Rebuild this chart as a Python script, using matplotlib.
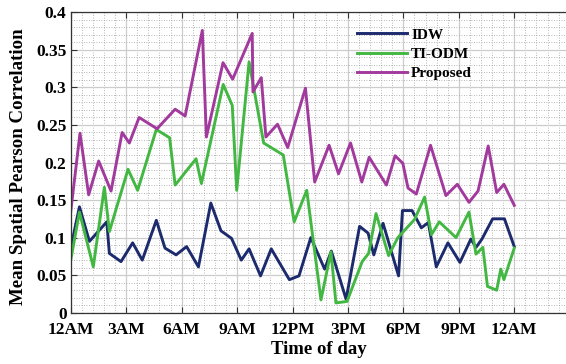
import matplotlib
matplotlib.use("Agg")
import matplotlib.pyplot as plt
from matplotlib.ticker import MultipleLocator

# hours since midnight
idw_t = [0.0, 0.47, 1.01, 1.95, 2.09, 2.72, 3.35, 3.87, 4.63, 5.1, 5.7, 6.27,
         6.91, 7.58, 8.13, 8.7, 9.23, 9.65, 10.27, 10.85, 11.83, 12.35, 12.99,
         13.74, 14.1, 14.9, 15.63, 16.09, 16.4, 16.9, 17.74, 17.95, 18.47,
         18.97, 19.35, 19.78, 20.41, 21.06, 21.65, 21.93, 22.25, 22.83, 23.47, 24.0]
idw_v = [0.086, 0.141, 0.095, 0.121, 0.079, 0.068, 0.093, 0.070, 0.123, 0.086,
         0.077, 0.088, 0.061, 0.146, 0.109, 0.099, 0.070, 0.085, 0.049, 0.085,
         0.044, 0.049, 0.100, 0.058, 0.082, 0.018, 0.115, 0.106, 0.077, 0.119,
         0.049, 0.136, 0.136, 0.113, 0.120, 0.061, 0.093, 0.067, 0.098, 0.087,
         0.098, 0.125, 0.125, 0.088]

odm_t = [0.0, 0.47, 1.22, 1.82, 2.09, 3.1, 3.62, 4.63, 5.35, 5.65, 6.78, 7.07,
         8.25, 8.74, 8.98, 9.65, 10.44, 11.5, 12.09, 12.77, 13.54, 14.08, 14.35,
         14.95, 15.77, 16.12, 16.52, 17.2, 17.7, 18.6, 19.15, 19.52, 19.94,
         20.85, 21.55, 21.93, 22.3, 22.55, 23.05, 23.27, 23.44, 24.0]
odm_v = [0.070, 0.134, 0.061, 0.167, 0.108, 0.191, 0.163, 0.244, 0.233, 0.170,
         0.205, 0.172, 0.304, 0.276, 0.163, 0.334, 0.226, 0.210, 0.121, 0.163,
         0.017, 0.081, 0.013, 0.015, 0.068, 0.079, 0.132, 0.076, 0.100, 0.124,
         0.154, 0.104, 0.121, 0.100, 0.134, 0.078, 0.087, 0.035, 0.030, 0.058,
         0.044, 0.086]

prop_t = [0.0, 0.5, 0.97, 1.51, 2.18, 2.78, 3.17, 3.7, 4.67, 5.65, 6.19, 7.12,
          7.34, 8.24, 8.76, 9.82, 9.86, 10.31, 10.56, 11.19, 11.74, 12.7, 13.2,
          13.98, 14.49, 15.14, 15.75, 16.15, 17.08, 17.55, 17.97, 18.25, 18.7,
          19.47, 20.3, 20.92, 21.55, 22.04, 22.59, 23.05, 23.44, 24.0]
prop_v = [0.135, 0.239, 0.157, 0.202, 0.162, 0.240, 0.226, 0.260, 0.245, 0.271,
          0.262, 0.376, 0.234, 0.333, 0.311, 0.372, 0.294, 0.313, 0.234, 0.251,
          0.220, 0.299, 0.174, 0.223, 0.185, 0.226, 0.174, 0.207, 0.170, 0.209,
          0.199, 0.166, 0.158, 0.223, 0.156, 0.171, 0.147, 0.162, 0.222, 0.160,
          0.171, 0.143]

tick_hours = [0, 3, 6, 9, 12, 15, 18, 21, 24]
tick_labels = ['12AM', '3AM', '6AM', '9AM', '12PM', '3PM', '6PM', '9PM', '12AM']
ytick_vals = [0, 0.05, 0.1, 0.15, 0.2, 0.25, 0.3, 0.35, 0.4]
ytick_labels = ['0', '0.05', '0.1', '0.15', '0.2', '0.25', '0.3', '0.35', '0.4']

plt.rcParams['font.family'] = ['Liberation Serif', 'DejaVu Serif']
plt.rcParams['font.weight'] = 'bold'

fig = plt.figure(figsize=(5.66, 3.64), dpi=100)
ax = fig.add_axes([0.125, 0.141, 0.875, 0.825])

ax.plot(idw_t, idw_v, color='#1c2a6e', lw=2.1, label='IDW')
ax.plot(odm_t, odm_v, color='#42b842', lw=2.1, label='TI-ODM')
ax.plot(prop_t, prop_v, color='#a23a9e', lw=2.1, label='Proposed')

ax.set_xlim(0, 26.8)
ax.set_ylim(0, 0.4)
ax.set_xticks(tick_hours)
ax.set_xticklabels(tick_labels)
ax.set_yticks(ytick_vals)
ax.set_yticklabels(ytick_labels)
ax.xaxis.set_minor_locator(MultipleLocator(0.6))
ax.yaxis.set_minor_locator(MultipleLocator(0.01))

ax.grid(True, which='major', color='#cccccc', lw=0.9, ls='-')
ax.grid(True, which='minor', color='#a0a0a0', lw=0.6, ls=(0, (1, 2)))
ax.set_axisbelow(True)

ax.tick_params(which='both', direction='in', top=True, right=False,
               labelsize=12.5, color='#333333')
ax.tick_params(axis='x', pad=7)
ax.tick_params(axis='y', pad=3)
ax.tick_params(which='major', length=4)
ax.tick_params(which='minor', length=0)
for s in ['left', 'top', 'bottom']:
    ax.spines[s].set_color('#333333')
    ax.spines[s].set_linewidth(0.9)
ax.spines['right'].set_visible(False)

ax.set_xlabel('Time of day', fontsize=13.5, fontweight='bold', labelpad=2)
ax.set_ylabel('Mean Spatial Pearson Correlation', fontsize=13.6, fontweight='bold')
ax.yaxis.set_label_coords(-0.088, 0.485)

ax.legend(loc='upper left', bbox_to_anchor=(0.578, 0.948), frameon=False,
          prop={'size': 11, 'weight': 'bold'}, handlelength=3.3,
          handletextpad=0.25, labelspacing=0.36, borderpad=0, borderaxespad=0)

fig.savefig('out.png', dpi=100)
